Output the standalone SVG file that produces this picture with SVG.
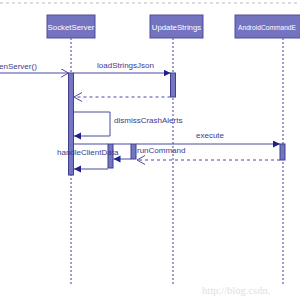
<svg xmlns="http://www.w3.org/2000/svg" width="300" height="300" viewBox="0 0 300 300">
<defs>
<style>
.box{fill:#7373c0;stroke:#4e4e9e;stroke-width:1}
.btxt{font-family:"Liberation Sans",Arial,sans-serif;font-size:7.8px;fill:#ffffff;text-anchor:middle}
.life{stroke:#6a6ab8;stroke-width:1.3;stroke-dasharray:2,2;fill:none}
.act{fill:#7575c2;stroke:#40408e;stroke-width:1}
.msg{stroke:#4a4aa2;stroke-width:1;fill:none}
.ret{stroke:#4a4aa2;stroke-width:1;fill:none;stroke-dasharray:3,3}
.lbl{font-family:"Liberation Sans",Arial,sans-serif;font-size:8px;fill:#3a3a92}
</style>
<marker id="fill" markerWidth="8" markerHeight="8" refX="7" refY="3.5" orient="auto" markerUnits="userSpaceOnUse">
<path d="M0,0 L7,3.5 L0,7 Z" fill="#20208a"/>
</marker>
<marker id="open" markerWidth="10" markerHeight="10" refX="8" refY="4.5" orient="auto" markerUnits="userSpaceOnUse">
<path d="M0,0 L8,4.5 L0,9" fill="none" stroke="#4a4aa2" stroke-width="1"/>
</marker>
</defs>
<rect width="300" height="300" fill="#ffffff"/>
<line x1="0" y1="3" x2="300" y2="3" stroke="#bbbbbb" stroke-width="1" stroke-dasharray="3,3"/>

<g id="SocketServer">
<rect class="box" x="47" y="15" width="48" height="23"/>
<text class="btxt" x="71" y="29.5">SocketServer</text>
<line class="life" x1="71" y1="38" x2="71" y2="284"/>
</g>
<g id="UpdateStrings">
<rect class="box" x="150" y="15" width="53" height="23"/>
<text class="btxt" x="176.5" y="29.5">UpdateStrings</text>
<line class="life" x1="173" y1="38" x2="173" y2="284"/>
</g>
<g id="AndroidCommand">
<rect class="box" x="235" y="15" width="66" height="23"/>
<text class="btxt" x="238" y="29.5" style="text-anchor:start" textLength="58" lengthAdjust="spacingAndGlyphs">AndroidCommandE</text>
<line class="life" x1="283" y1="38" x2="283" y2="284"/>
</g>

<g id="activations">
<rect class="act" x="68.5" y="73" width="5" height="102"/>
<rect class="act" x="170.5" y="73" width="5" height="24"/>
<rect class="act" x="280" y="144" width="5" height="16"/>
<rect class="act" x="108" y="144" width="5" height="24"/>
<rect class="act" x="131" y="144" width="5" height="15"/>
</g>

<g id="connectors">
<line class="msg" x1="0" y1="73" x2="68.5" y2="73" marker-end="url(#open)"/>
<line class="msg" x1="73.5" y1="73" x2="170.5" y2="73" marker-end="url(#fill)"/>
<line class="ret" x1="170.5" y1="97" x2="74" y2="97" marker-end="url(#open)"/>
<polyline class="msg" points="73.5,112 110,112 110,136 74,136" marker-end="url(#fill)"/>
<line class="msg" x1="73.5" y1="144" x2="108" y2="144"/>
<line class="msg" x1="113" y1="144" x2="131" y2="144"/>
<line class="msg" x1="136" y1="144" x2="280" y2="144" marker-end="url(#fill)"/>
<line class="ret" x1="280" y1="160" x2="137" y2="160" marker-end="url(#open)"/>
<line class="msg" x1="131" y1="159" x2="113.5" y2="159" marker-end="url(#fill)"/>
<line class="msg" x1="108" y1="169" x2="74" y2="169" marker-end="url(#fill)"/>
</g>

<g id="labels">
<text class="lbl" x="-1" y="69">enServer()</text>
<text class="lbl" x="97" y="68">loadStringsJson</text>
<text class="lbl" x="114" y="123">dismissCrashAlerts</text>
<text class="lbl" x="57" y="155">handleClientData</text>
<text class="lbl" x="137" y="153">runCommand</text>
<text class="lbl" x="196" y="138">execute</text>
</g>
<text x="202" y="294" font-family="Liberation Serif,serif" font-size="10.5" fill="#e0e0e0">http://blog.csdn.</text>
</svg>
